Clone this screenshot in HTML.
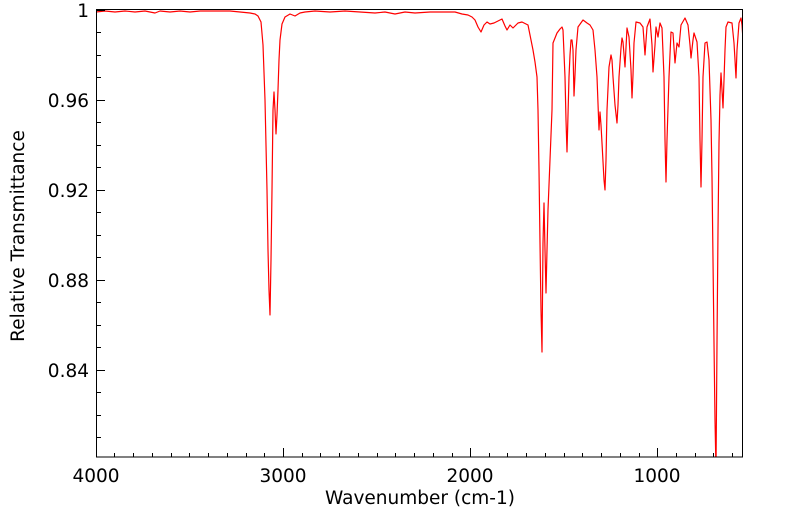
<!DOCTYPE html>
<html><head><meta charset="utf-8"><style>
html,body{margin:0;padding:0;background:#fff;}
svg{display:block;}
text{font-family:"DejaVu Sans","Liberation Sans",sans-serif;fill:#000;}
</style></head><body>
<svg width="799" height="516" viewBox="0 0 799 516" xmlns="http://www.w3.org/2000/svg">
<defs><clipPath id="c"><rect x="96" y="10" width="647" height="447"/></clipPath></defs>
<g clip-path="url(#c)">
<polyline fill="none" stroke="#ff0000" stroke-width="1.2" stroke-linejoin="round" points="
96,12 105,11 115,12 125,11 135,12 145,11 155,13 160,11 170,12 180,11 190,12 200,11 210,11 220,11 230,11 240,12 250,13 255,14 258,16 261,22 263,45 265,100 267,190 268,250 269,290 270,315 271,260 272,190 273,110 274,92 275,110 276,134 277,115 278,90 279,60 280,40 282,24 285,17 290,14 295,16 300,13 305,12 315,11 330,12 345,11 360,12 375,13 385,12 395,14 405,12 415,13 430,12 445,12 455,12 462,14 468,15 472,17 475,20 478,27 481,32 484,25 487,22 490,24 494,23 498,21 502,19 505,26 507,30 510,25 513,28 518,23 522,22 526,24 528,25 531,40 533,50 535,62 537,77 538,110 539,170 540,243 541,310 542,352 543,243 544,203 545,250 546,293 547,250 548,210 550,160 552,110 553,43 555,38 557,33 560,29 562,27 563,30 565,77 566,120 567,152 568,115 569,77 570,55 571,40 572,40 573,50 574,96 575,75 576,50 578,27 583,20 587,23 590,25 593,30 595,50 597,77 599,130 600,112 601,125 602,143 604,180 605,190 606,160 607,110 609,67 611,55 612,60 613,77 615,105 617,123 618,105 619,77 621,48 622,38 623,42 625,67 627,28 629,37 631,70 632,98 633,75 634,43 636,22 640,23 643,27 645,55 647,27 650,19 652,45 653,72 655,45 656,27 658,37 660,23 662,28 664,77 665,140 666,182 667,140 669,77 671,32 673,33 675,63 677,43 679,47 681,25 685,18 688,25 690,45 691,58 693,40 694,33 697,42 699,77 700,140 701,187 702,140 703,77 705,43 707,42 709,60 711,120 712,177 713,260 714,343 715,420 716,470 717,343 718,230 719,143 720,95 721,73 722,90 723,108 724,80 725,50 726,27 728,22 732,23 734,43 735,60 736,78 737,50 739,23 741,18 742,25 743,40"/>
</g>
<g stroke="#000" stroke-width="1" fill="none">
<rect x="96.5" y="9.5" width="646" height="447.5"/>
<path d="M96 10.5h9M96 100.5h9M96 190.5h9M96 280.5h9M96 370.5h9"/>
<path d="M96 32.5h5M96 55.5h5M96 77.5h5M96 122.5h5M96 145.5h5M96 167.5h5M96 212.5h5M96 235.5h5M96 257.5h5M96 302.5h5M96 325.5h5M96 347.5h5M96 392.5h5M96 415.5h5M96 437.5h5"/>
<path d="M283.5 457v-9M470.5 457v-9M657.5 457v-9"/>
<path d="M114.5 457v-4M133.5 457v-4M152.5 457v-4M171.5 457v-4M189.5 457v-4M208.5 457v-4M227.5 457v-4M246.5 457v-4M264.5 457v-4M302.5 457v-4M320.5 457v-4M339.5 457v-4M358.5 457v-4M377.5 457v-4M395.5 457v-4M414.5 457v-4M433.5 457v-4M452.5 457v-4M489.5 457v-4M507.5 457v-4M526.5 457v-4M545.5 457v-4M564.5 457v-4M582.5 457v-4M601.5 457v-4M620.5 457v-4M639.5 457v-4M676.5 457v-4M695.5 457v-4M713.5 457v-4M732.5 457v-4"/>
</g>
<g font-size="18.5" text-anchor="end">
<text x="89" y="17">1</text>
<text x="89" y="107">0.96</text>
<text x="89" y="197">0.92</text>
<text x="89" y="287">0.88</text>
<text x="89" y="377">0.84</text>
</g>
<g font-size="18.5" text-anchor="middle">
<text x="96" y="482">4000</text>
<text x="283" y="482">3000</text>
<text x="470" y="482">2000</text>
<text x="657" y="482">1000</text>
<text x="420" y="504">Wavenumber (cm-1)</text>
<text transform="translate(24,236) rotate(-90)">Relative Transmittance</text>
</g>
</svg>
</body></html>
